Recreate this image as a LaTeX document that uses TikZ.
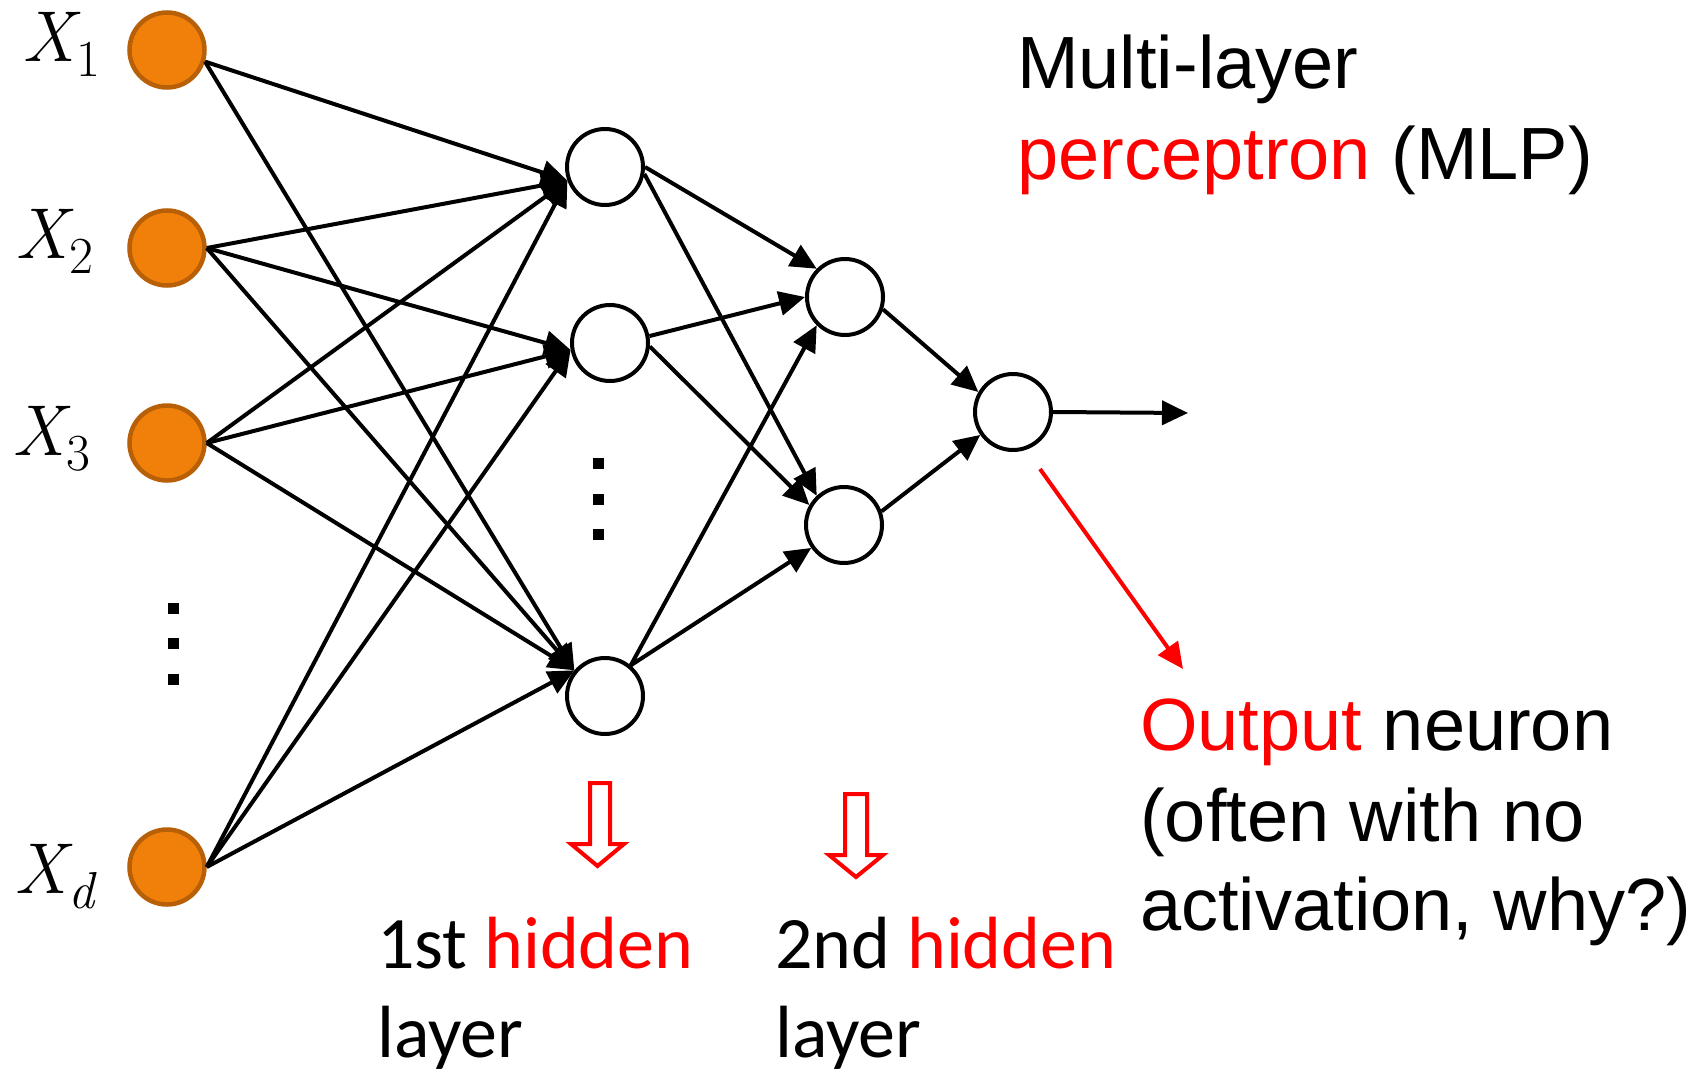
\documentclass[tikz,border=0pt]{standalone}
\usepackage{fontspec}
\setmainfont{Liberation Sans}
\newfontfamily\calfont{Carlito}
\newfontfamily\lmr{Latin Modern Roman}
\usetikzlibrary{arrows.meta}
\definecolor{inorange}{RGB}{240,128,10}
\definecolor{inedge}{RGB}{184,96,8}
\definecolor{myred}{RGB}{255,0,0}
\newcommand{\xsub}[2]{{\lmr\itshape X}\kern2pt\raisebox{-15pt}{\fontsize{52}{52}\selectfont #2}}
\begin{document}
\begin{tikzpicture}[x=1pt,y=-1pt,
  neuron/.style={circle,draw=black,line width=4pt,fill=white,minimum size=76pt,inner sep=0pt},
  inneuron/.style={circle,draw=inedge,line width=4.5pt,fill=inorange,minimum size=75pt,inner sep=0pt},
  conn/.style={line width=4pt,draw=black,-{Triangle[length=26pt,width=24pt]}},
  redconn/.style={line width=4pt,draw=myred,-{Triangle[length=26pt,width=24pt]}},
  hollow/.style={line width=4pt,draw=myred,line join=miter},
  dotsq/.style={fill=black,minimum size=11pt,inner sep=0pt,draw=none,rectangle},
  xlab/.style={anchor=base west,inner sep=0pt,font=\lmr\fontsize{72}{86}\selectfont},
  arial/.style={anchor=base west,inner sep=0pt,font=\fontsize{74}{89}\selectfont},
  calib/.style={anchor=base west,inner sep=0pt,font=\calfont\fontsize{74}{89}\selectfont},
]
\useasboundingbox (0,0) rectangle (1705,1070);

% input neurons
\node[inneuron] (X1) at (167,50) {};
\node[inneuron] (X2) at (167,248) {};
\node[inneuron] (X3) at (167,443) {};
\node[inneuron] (Xd) at (167,867) {};

% hidden 1
\node[neuron] (h1a) at (605,167) {};
\node[neuron] (h1b) at (610,343) {};
\node[neuron] (h1c) at (605,696) {};

% hidden 2
\node[neuron] (h2a) at (845,297) {};
\node[neuron] (h2b) at (844,525) {};

% output
\node[neuron] (o) at (1013,412) {};
\coordinate (outend) at (1188,413);

% labels for inputs
\node[xlab] (lx1) at (22,62) {\xsub{X}{1}};
\node[xlab] (lx2) at (15,258) {\xsub{X}{2}};
\node[xlab] (lx3) at (12,455) {\xsub{X}{3}};
\node[xlab] (lxd) at (14,893) {\xsub{X}{\itshape d}};

% vertical dots
\node[dotsq] (da1) at (173,608) {};
\node[dotsq] (da2) at (173,643) {};
\node[dotsq] (da3) at (173,679) {};
\node[dotsq] (db1) at (598,463) {};
\node[dotsq] (db2) at (598,499) {};
\node[dotsq] (db3) at (598,534) {};

% input -> hidden 1
\draw[conn] (X1.-17) -- (h1a.200);
\draw[conn] (X1.-17) -- (h1c.140);
\foreach \s in {X2,X3,Xd}{
  \draw[conn] (\s.east) -- (h1a.200);
  \draw[conn] (\s.east) -- (h1b.190);
  \draw[conn] (\s.east) -- (h1c.140);
}

% hidden 1 -> hidden 2
\draw[conn] (h1a.0) -- (h2a.135);
\draw[conn] (h1a.-10) -- (h2b.133);
\draw[conn] (h1b.10) -- (h2a.180);
\draw[conn] (h1b.-5) -- (h2b.150);
\draw[conn] (h1c.50) -- (h2a.225);
\draw[conn] (h1c.50) -- (h2b.215);

% hidden 2 -> output
\draw[conn] (h2a.-18) -- (o.150);
\draw[conn] (h2b.20) -- (o.215);
\draw[conn] (o.east) -- (outend);

% red pointer
\coordinate (rs) at (1040,469);
\coordinate (re) at (1183,669);
\draw[redconn] (rs) -- (re);

% hollow red arrows
\draw[hollow] (590,783) -- (610,783) -- (610,844) -- (624,844) -- (597.5,866) -- (571,844) -- (590,844) -- cycle;
\draw[hollow] (845,794) -- (867,794) -- (867,855) -- (883,855) -- (856,877) -- (829,855) -- (845,855) -- cycle;

% texts
\node[arial] (t1) at (1017,89) {Multi-layer};
\node[arial] (t2) at (1017,179) {\textcolor{myred}{perceptron} (MLP)};
\node[arial] (t3) at (1140,750) {\textcolor{myred}{Output} neuron};
\node[arial] (t4) at (1140,841) {(often with no};
\node[arial] (t5) at (1140,930) {activation, why?)};

\node[calib] (c1) at (377,968) {1st \textcolor{myred}{hidden}};
\node[calib] (c2) at (377,1057) {layer};
\node[calib] (c3) at (775,968) {2nd \textcolor{myred}{hidden}};
\node[calib] (c4) at (775,1057) {layer};
\end{tikzpicture}
\end{document}
